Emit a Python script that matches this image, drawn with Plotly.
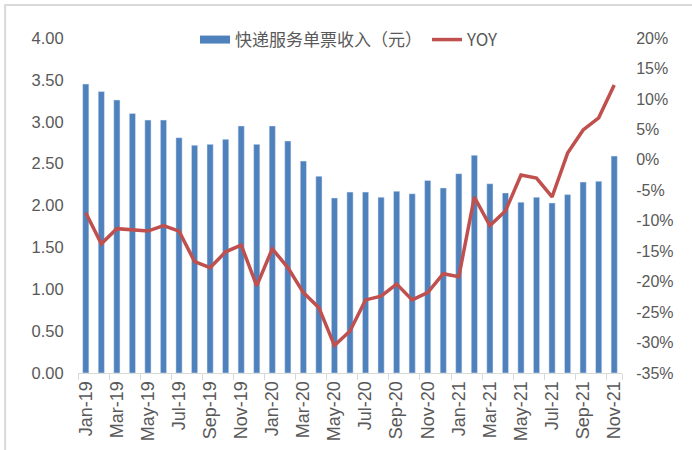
import plotly.graph_objects as go

months = ["Jan-19","Feb-19","Mar-19","Apr-19","May-19","Jun-19","Jul-19","Aug-19","Sep-19","Oct-19","Nov-19","Dec-19",
          "Jan-20","Feb-20","Mar-20","Apr-20","May-20","Jun-20","Jul-20","Aug-20","Sep-20","Oct-20","Nov-20","Dec-20",
          "Jan-21","Feb-21","Mar-21","Apr-21","May-21","Jun-21","Jul-21","Aug-21","Sep-21","Oct-21","Nov-21"]
revenue = [3.45,3.36,3.26,3.10,3.02,3.02,2.81,2.72,2.73,2.79,2.95,2.73,
           2.95,2.77,2.53,2.35,2.09,2.16,2.16,2.10,2.17,2.14,2.30,2.21,
           2.38,2.60,2.26,2.15,2.04,2.10,2.03,2.13,2.28,2.29,2.59]
yoy = [-8.7,-13.8,-11.3,-11.5,-11.7,-10.8,-11.7,-16.7,-17.7,-15.1,-14.0,-20.7,
       -14.6,-17.7,-21.8,-24.3,-30.5,-28.1,-23.0,-22.4,-20.4,-23.0,-21.8,-18.7,
       -19.2,-6.1,-10.8,-8.4,-2.5,-3.0,-6.1,1.1,4.9,6.9,12.3]
left_ticks = [0,0.5,1,1.5,2,2.5,3,3.5,4]
right_ticks = [-35,-30,-25,-20,-15,-10,-5,0,5,10,15,20]

grey = "#595959"
blue = "#4F81BD"
red = "#C0504D"
fig = go.Figure()
fig.add_trace(go.Bar(x=months, y=revenue, name="快递服务单票收入（元）", marker_color=blue, showlegend=False))
# legend entry styled like the reference's wide bar swatch
fig.add_trace(go.Scatter(x=[None], y=[None], name="快递服务单票收入（元）", mode="lines",
                         line=dict(color=blue, width=8)))
fig.add_trace(go.Scatter(x=months, y=yoy, name="YOY", yaxis="y2", mode="lines",
                         line=dict(color=red, width=3.5)))

fig.update_layout(
    width=692, height=450,
    margin=dict(l=78, r=70, t=38, b=77),
    paper_bgcolor="white", plot_bgcolor="white",
    font=dict(family="Liberation Sans, Noto Sans CJK SC", size=16, color=grey),
    bargap=0.6,
    showlegend=True,
    legend=dict(orientation="h", x=0.5, xanchor="center", y=0.994, yanchor="middle",
                font=dict(family="Noto Sans CJK SC, Liberation Sans", size=17, color=grey),
                bgcolor="rgba(0,0,0,0)", itemwidth=30, tracegroupgap=0),
    xaxis=dict(type="category", tickangle=-90, tickvals=months[::2], ticktext=months[::2],
               tickson="boundaries", automargin=False,
               showline=True, linecolor="#D9D9D9", linewidth=1, ticks="outside", tickcolor="#D9D9D9",
               ticklen=6, showgrid=False, tickfont=dict(size=18)),
    yaxis=dict(range=[0,4], tickvals=left_ticks, tickformat=".2f", showgrid=False, zeroline=False,
               showline=False, ticklen=10, ticks="outside", tickcolor="rgba(0,0,0,0)", automargin=False,
               tickfont=dict(size=16.5)),
    yaxis2=dict(range=[-35,20], tickvals=right_ticks, ticktext=[f"{v}%" for v in right_ticks],
                overlaying="y", side="right", showgrid=False, zeroline=False, showline=False,
                ticks="outside", tickcolor="rgba(0,0,0,0)", ticklen=10, automargin=False,
                tickfont=dict(size=16)),
)
fig.add_shape(type="rect", xref="paper", yref="paper", x0=-0.134, x1=1.3, y0=-0.4, y1=1.0985,
              line=dict(color="#D9D9D9", width=2), layer="below")
fig.write_html("out.html", config={"displayModeBar": False},
               post_script="document.body.style.margin='0';document.body.style.overflow='hidden';")
